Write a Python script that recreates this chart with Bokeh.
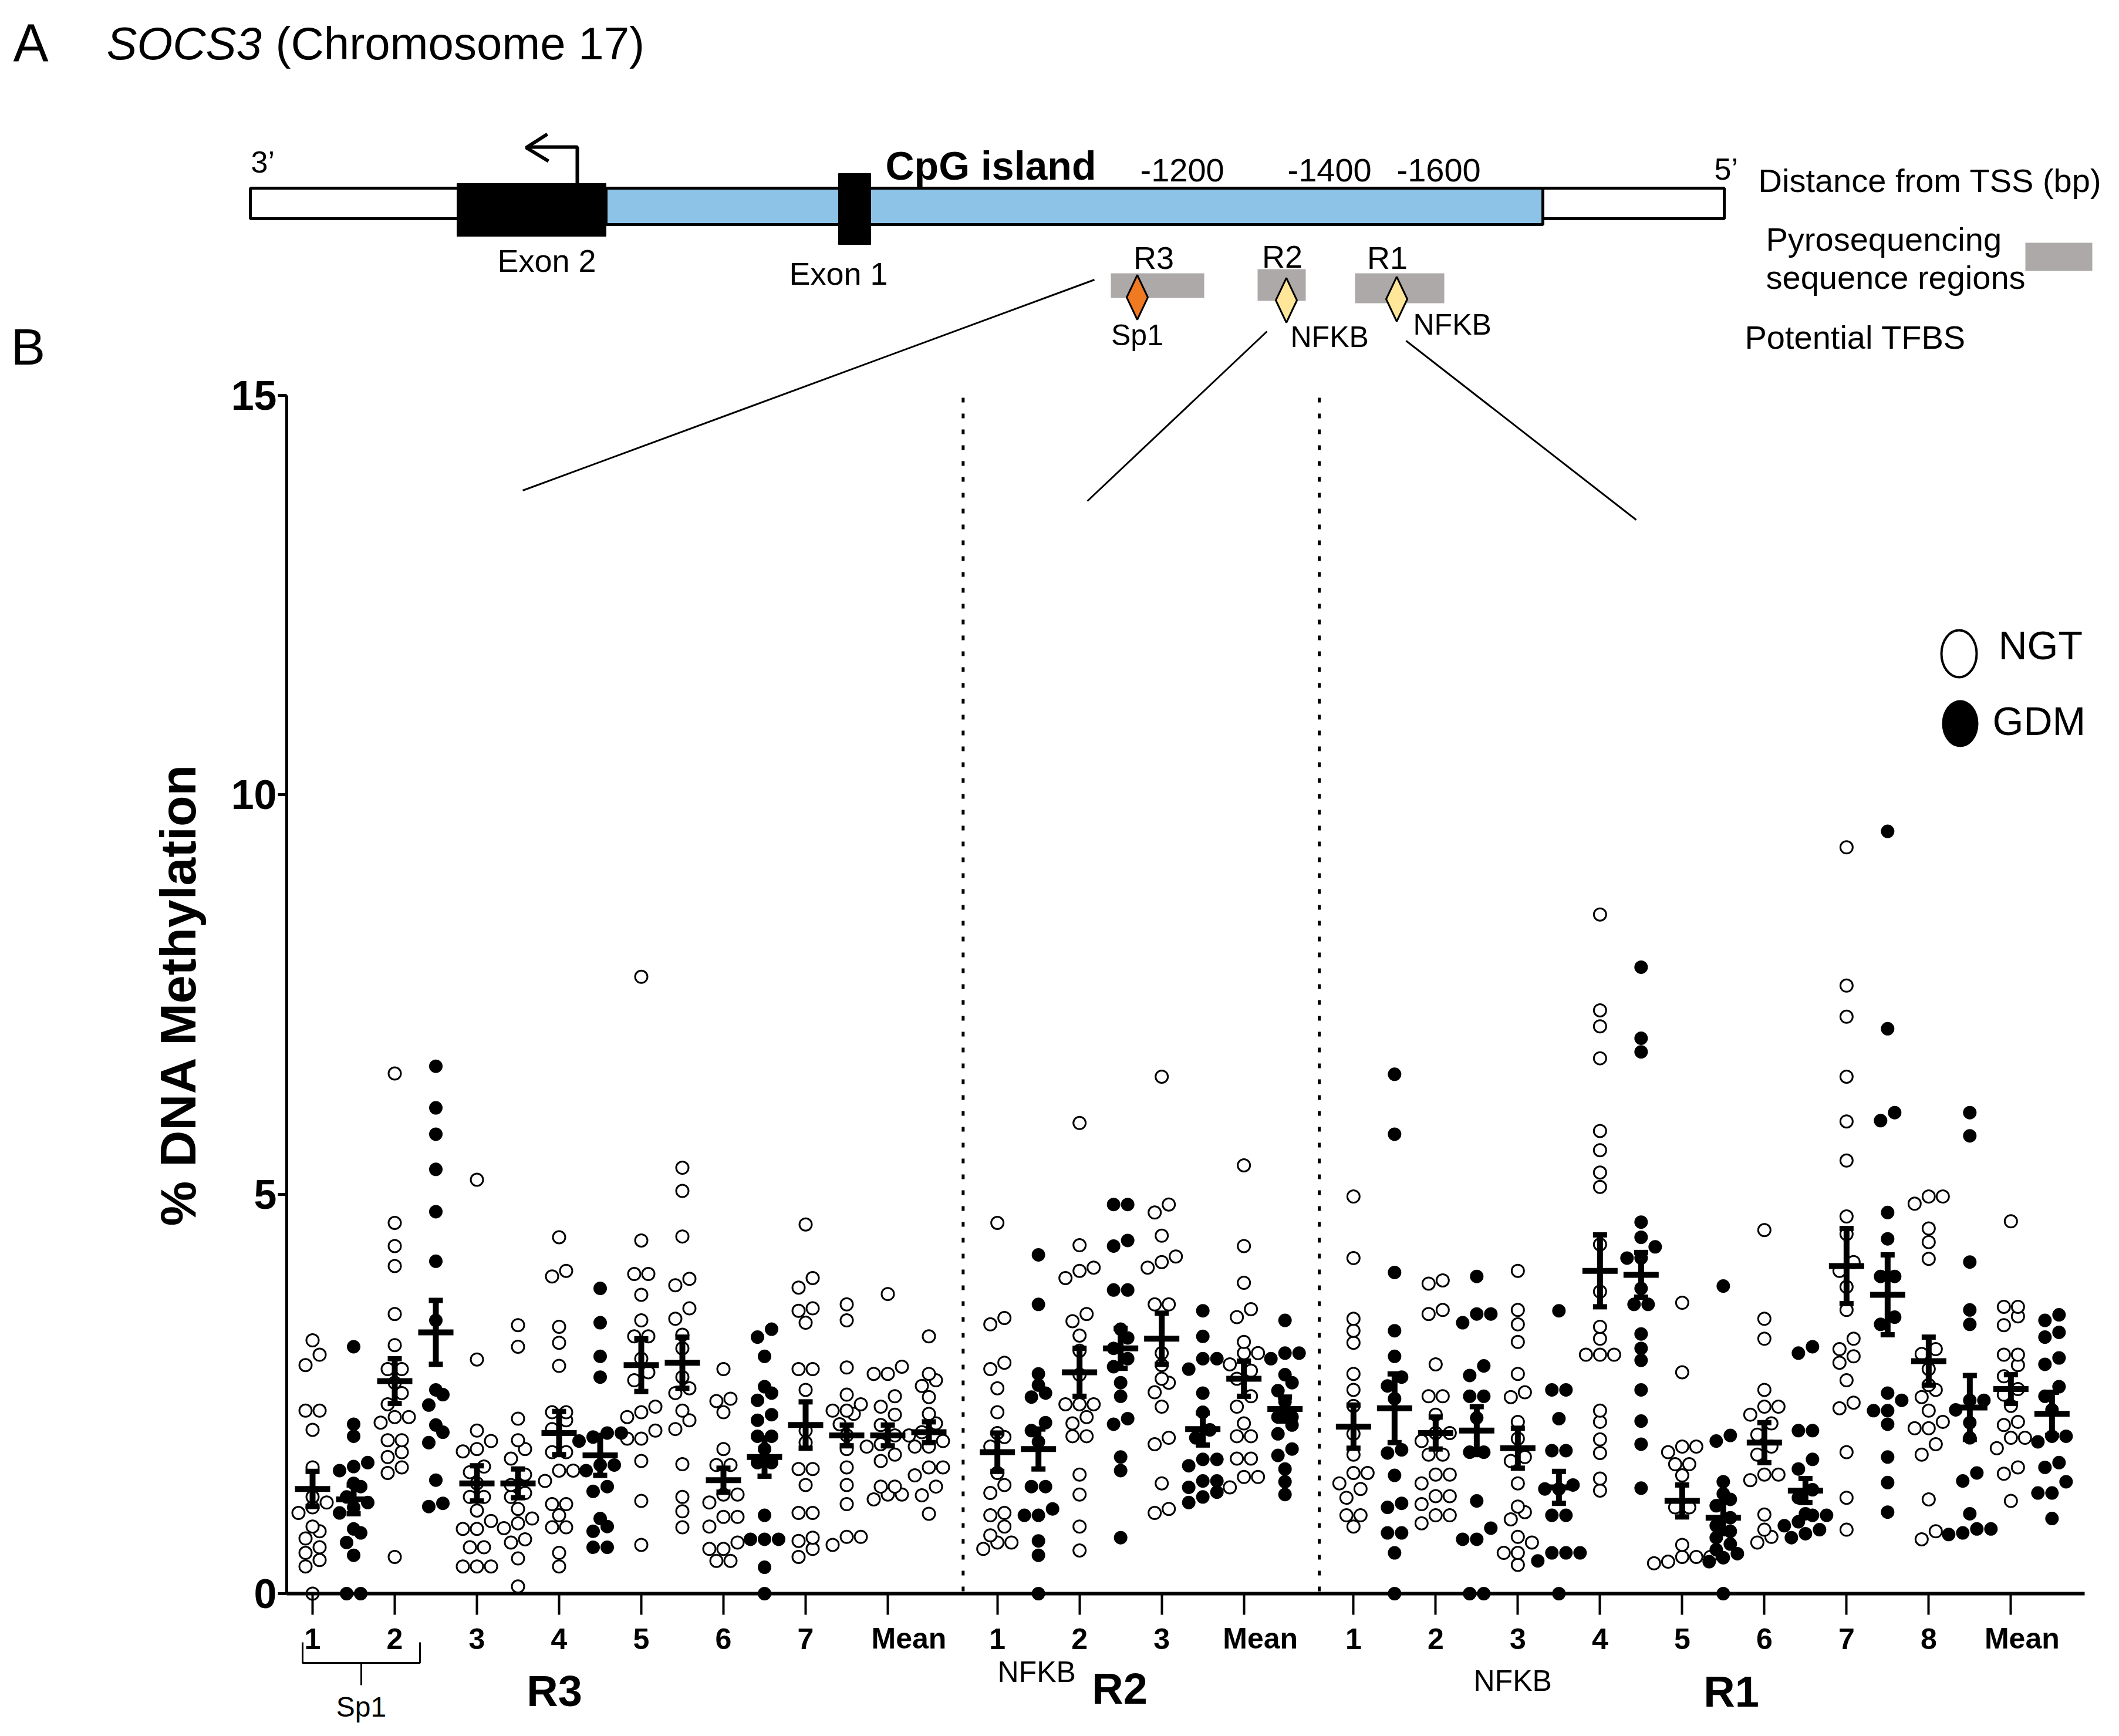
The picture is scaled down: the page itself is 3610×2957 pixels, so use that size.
import numpy as np
from bokeh.plotting import figure
from bokeh.models import Range1d, LinearAxis, FixedTicker
from bokeh.core.properties import value
from bokeh.embed import file_html
from bokeh.resources import INLINE

# ---------------- data ----------------
R3_LABELS = ["1", "2", "3", "4", "5", "6", "7", "Mean"]
R2_LABELS = ["1", "2", "3", "Mean"]
R1_LABELS = ["1", "2", "3", "4", "5", "6", "7", "8", "Mean"]

R3_NGT = [
    [3.17, 2.99, 2.86, 2.29, 2.29, 2.05, 1.58, 1.21, 1.14, 1.08, 1.01, 0.84, 0.78, 0.69, 0.58, 0.51, 0.42, 0.34, 0.0],
    [6.51, 4.64, 4.35, 4.10, 3.50, 3.11, 2.81, 2.81, 2.64, 2.51, 2.37, 2.21, 2.21, 2.14, 1.92, 1.92, 1.77, 1.71, 1.58, 1.51, 0.46],
    [5.18, 2.93, 2.04, 1.91, 1.81, 1.78, 1.59, 1.52, 1.38, 1.21, 1.21, 1.04, 0.91, 0.81, 0.81, 0.58, 0.58, 0.34, 0.34, 0.34],
    [4.46, 4.04, 3.97, 3.34, 3.14, 2.85, 2.27, 2.27, 2.17, 2.06, 1.77, 1.77, 1.54, 1.54, 1.41, 1.12, 1.12, 0.98, 0.83, 0.83, 0.51, 0.34],
    [7.72, 4.42, 4.00, 4.00, 3.74, 3.42, 3.22, 3.22, 2.94, 2.77, 2.67, 2.34, 2.27, 2.21, 2.04, 1.94, 1.94, 1.66, 1.16, 0.61],
    [2.81, 2.44, 2.41, 2.27, 1.81, 1.61, 1.61, 1.24, 1.24, 1.14, 0.96, 0.96, 0.84, 0.64, 0.56, 0.56, 0.41, 0.41],
    [4.62, 3.95, 3.83, 3.57, 3.54, 3.39, 2.81, 2.81, 2.55, 2.04, 1.89, 1.56, 1.56, 1.36, 1.01, 1.01, 0.70, 0.66, 0.56, 0.46],
    [3.75, 2.84, 2.75, 2.75, 2.47, 2.34, 2.24, 2.11, 1.98, 1.98, 1.87, 1.84, 1.74, 1.66, 1.34, 1.34, 1.24, 1.24, 1.18],
]
R3_GDM = [
    [3.09, 2.12, 1.97, 1.64, 1.59, 1.54, 1.38, 1.34, 1.21, 1.14, 1.08, 1.01, 0.81, 0.76, 0.64, 0.48, 0.0, 0.0],
    [6.60, 6.08, 5.75, 5.31, 4.78, 4.16, 3.42, 2.55, 2.49, 2.36, 2.11, 2.02, 1.89, 1.42, 1.13, 1.09],
    [3.36, 3.09, 2.19, 1.92, 1.81, 1.69, 1.49, 1.36, 1.26, 1.21, 1.06, 0.94, 0.88, 0.82, 0.68, 0.64, 0.44, 0.09],
    [3.82, 3.39, 2.97, 2.71, 2.01, 2.01, 1.96, 1.91, 1.61, 1.61, 1.54, 1.34, 1.28, 0.94, 0.84, 0.78, 0.58, 0.58],
    [5.33, 5.04, 4.47, 3.94, 3.86, 3.57, 3.44, 3.24, 3.07, 2.71, 2.57, 2.51, 2.29, 2.17, 2.06, 1.62, 1.21, 1.03, 0.83],
    [3.31, 3.21, 2.97, 2.59, 2.51, 2.42, 2.24, 2.17, 1.97, 1.97, 1.81, 1.64, 1.64, 0.98, 0.68, 0.68, 0.68, 0.33, 0.0],
    [3.62, 3.42, 2.83, 2.49, 2.37, 2.29, 2.29, 2.25, 2.12, 1.98, 1.81, 1.58, 1.36, 1.12, 0.71, 0.71, 0.61],
    [3.22, 2.75, 2.67, 2.60, 2.46, 2.25, 2.13, 2.02, 1.91, 1.84, 1.84, 1.58, 1.58, 1.48, 1.34, 1.23, 1.00],
]
R3_GDM_OPEN = [False, False, True, False, True, False, True, True]

R2_NGT = [
    [4.64, 3.45, 3.37, 2.89, 2.81, 2.57, 2.27, 2.01, 1.96, 1.84, 1.51, 1.36, 1.26, 1.01, 0.98, 0.84, 0.73, 0.64, 0.64, 0.56],
    [5.89, 4.36, 4.08, 4.04, 3.95, 3.50, 3.41, 3.23, 3.04, 2.74, 2.37, 2.37, 2.37, 2.21, 2.13, 1.97, 1.97, 1.49, 1.24, 0.84, 0.54],
    [6.47, 4.87, 4.77, 4.48, 4.22, 4.15, 4.08, 3.62, 3.62, 3.01, 2.86, 2.69, 2.64, 2.52, 2.34, 1.95, 1.87, 1.38, 1.06, 1.01],
    [5.36, 4.35, 3.89, 3.56, 3.46, 3.15, 3.01, 3.01, 2.87, 2.79, 2.69, 2.47, 2.34, 2.13, 1.97, 1.97, 1.69, 1.69, 1.46, 1.46, 1.33],
]
R2_GDM = [
    [4.24, 3.62, 2.75, 2.61, 2.51, 2.46, 2.14, 2.04, 1.90, 1.34, 1.34, 1.06, 0.98, 0.98, 0.66, 0.48, 0.0],
    [4.87, 4.87, 4.42, 4.35, 3.80, 3.80, 3.31, 3.20, 3.07, 2.94, 2.84, 2.64, 2.47, 2.19, 2.12, 1.71, 1.54, 0.70],
    [3.54, 3.22, 2.94, 2.94, 2.81, 2.51, 2.27, 2.05, 1.95, 1.68, 1.68, 1.60, 1.41, 1.41, 1.33, 1.27, 1.21, 1.14],
    [3.42, 3.01, 3.01, 2.94, 2.74, 2.64, 2.54, 2.40, 2.21, 2.21, 2.11, 2.00, 1.81, 1.73, 1.56, 1.40, 1.24],
]
R2_GDM_OPEN = [False, False, False, False]

R1_NGT = [
    [4.97, 4.20, 3.44, 3.29, 3.14, 2.75, 2.55, 2.35, 2.00, 1.74, 1.51, 1.51, 1.38, 1.31, 1.20, 0.98, 0.98, 0.84],
    [3.92, 3.88, 3.55, 3.50, 2.87, 2.47, 2.47, 2.24, 2.01, 2.01, 1.91, 1.74, 1.74, 1.49, 1.49, 1.38, 1.22, 1.22, 1.12, 0.98, 0.98, 0.88],
    [4.04, 3.55, 3.37, 3.15, 2.75, 2.52, 2.46, 2.15, 1.94, 1.71, 1.66, 1.38, 1.09, 1.02, 0.93, 0.71, 0.64, 0.51, 0.51, 0.36],
    [8.50, 7.30, 7.10, 6.70, 5.79, 5.55, 5.27, 5.09, 4.37, 3.78, 3.34, 3.19, 2.99, 2.99, 2.99, 2.29, 2.15, 1.93, 1.76, 1.44, 1.29],
    [3.64, 2.77, 1.84, 1.84, 1.77, 1.62, 1.62, 1.48, 1.08, 1.08, 0.61, 0.46, 0.46, 0.46, 0.40, 0.38],
    [4.55, 3.44, 3.19, 2.55, 2.34, 2.34, 2.24, 2.13, 1.99, 1.84, 1.74, 1.49, 1.49, 1.42, 0.99, 0.80, 0.71, 0.64],
    [9.34, 7.61, 7.22, 6.47, 5.91, 5.42, 4.72, 4.50, 4.15, 4.04, 3.84, 3.55, 3.19, 3.06, 2.97, 2.89, 2.67, 2.39, 2.32, 1.77, 1.20, 0.80],
    [4.97, 4.97, 4.88, 4.57, 4.40, 4.19, 3.06, 3.00, 2.81, 2.61, 2.55, 2.46, 2.29, 2.15, 2.07, 2.07, 1.87, 1.74, 1.18, 0.78, 0.68],
    [4.66, 3.59, 3.59, 3.47, 3.36, 2.99, 2.99, 2.86, 2.72, 2.56, 2.49, 2.35, 2.15, 2.11, 1.95, 1.95, 1.82, 1.58, 1.50, 1.16],
]
R1_GDM = [
    [6.50, 5.75, 4.02, 3.29, 2.97, 2.71, 2.60, 2.44, 1.80, 1.76, 1.48, 1.13, 1.08, 0.76, 0.76, 0.51, 0.0],
    [3.97, 3.50, 3.50, 3.39, 2.85, 2.73, 2.47, 2.47, 2.20, 1.77, 1.77, 1.16, 0.82, 0.68, 0.68, 0.0, 0.0],
    [3.54, 2.55, 2.55, 2.19, 1.79, 1.79, 1.36, 1.31, 1.31, 0.98, 0.98, 0.51, 0.51, 0.51, 0.41, 0.0],
    [7.84, 6.95, 6.78, 4.65, 4.46, 4.34, 4.20, 4.20, 3.82, 3.62, 3.62, 3.25, 3.07, 2.92, 2.55, 2.16, 1.87, 1.32],
    [3.85, 1.98, 1.91, 1.40, 1.25, 1.18, 1.10, 0.95, 0.85, 0.78, 0.70, 0.62, 0.55, 0.50, 0.45, 0.40, 0.0],
    [3.09, 3.01, 2.04, 2.04, 1.68, 1.56, 1.30, 1.20, 1.00, 0.98, 0.98, 0.90, 0.85, 0.80, 0.75, 0.70],
    [9.54, 7.07, 6.02, 5.92, 4.77, 4.44, 3.97, 3.97, 3.46, 3.37, 2.51, 2.42, 2.29, 2.29, 2.12, 1.71, 1.39, 1.02],
    [6.02, 5.73, 4.15, 3.55, 3.37, 2.42, 2.42, 2.30, 2.14, 1.95, 1.51, 1.41, 1.00, 0.81, 0.81, 0.76, 0.74],
    [3.49, 3.42, 3.27, 3.21, 2.95, 2.87, 2.59, 2.47, 2.30, 1.97, 1.97, 1.90, 1.64, 1.58, 1.40, 1.26, 1.26, 0.94],
]
R1_GDM_OPEN = [False] * 9

R3_NGT_MEAN = [1.31, 2.66, 1.38, 2.01, 2.86, 1.42, 2.11, 1.98]
R3_NGT_SEM = [0.22, 0.28, 0.22, 0.27, 0.33, 0.15, 0.29, 0.13]
R3_GDM_MEAN = [1.18, 3.27, 1.38, 1.73, 2.89, 1.71, 1.98, 2.02]
R3_GDM_SEM = [0.18, 0.40, 0.18, 0.25, 0.32, 0.24, 0.13, 0.13]
R2_NGT_MEAN = [1.77, 2.77, 3.19, 2.69]
R2_NGT_SEM = [0.24, 0.30, 0.32, 0.22]
R2_GDM_MEAN = [1.81, 3.07, 2.06, 2.31]
R2_GDM_SEM = [0.25, 0.25, 0.20, 0.15]
R1_NGT_MEAN = [2.09, 2.01, 1.82, 4.04, 1.16, 1.89, 4.10, 2.91, 2.56]
R1_NGT_SEM = [0.27, 0.20, 0.25, 0.45, 0.20, 0.25, 0.47, 0.30, 0.18]
R1_GDM_MEAN = [2.32, 2.04, 1.33, 3.99, 0.95, 1.29, 3.74, 2.33, 2.25]
R1_GDM_SEM = [0.43, 0.30, 0.20, 0.28, 0.20, 0.15, 0.50, 0.40, 0.27]

# ---------------- layout helpers (reference pixel -> data units) ----------------
W, H = 3594, 2940
X0, COLPX, Y0, UPX = 540.0, 70.0, 2722.0, 136.1
XU = COLPX / 3.0                     # pixels per x unit (3 units per column)
MEAN_LABEL_SHIFT_PX = [36, 28, 19]   # "Mean" labels sit right of their tick


def ux(px):
    return (px - X0) / XU


def uy(py):
    return (Y0 - py) / UPX


FONT_NAME = "Liberation Sans"
FONT = value(FONT_NAME)

p = figure(width=W, height=H, x_range=Range1d(ux(8), ux(8 + W)),
           y_range=Range1d(uy(8 + H), uy(8)), output_backend="svg",
           toolbar_location=None, min_border=0,
           x_axis_location=None, y_axis_location=None)
p.outline_line_color = None
p.xgrid.visible = False
p.ygrid.visible = False
p.background_fill_color = "white"
p.border_fill_color = "white"

# ---------------- scatter columns ----------------
GROUP_START = [0, 50, 76]
regions = [
    (R3_LABELS, R3_NGT, R3_GDM, R3_GDM_OPEN, R3_NGT_MEAN, R3_NGT_SEM, R3_GDM_MEAN, R3_GDM_SEM),
    (R2_LABELS, R2_NGT, R2_GDM, R2_GDM_OPEN, R2_NGT_MEAN, R2_NGT_SEM, R2_GDM_MEAN, R2_GDM_SEM),
    (R1_LABELS, R1_NGT, R1_GDM, R1_GDM_OPEN, R1_NGT_MEAN, R1_NGT_SEM, R1_GDM_MEAN, R1_GDM_SEM),
]


def swarm(vals, step_px=24.0, thr=0.14):
    vs = sorted(vals)
    offs, ys = [], []
    i = 0
    while i < len(vs):
        j = i
        while j + 1 < len(vs) and vs[j + 1] - vs[i] < thr:
            j += 1
        n = j - i + 1
        for k in range(n):
            offs.append((k - (n - 1) / 2.0) * step_px / XU)
            ys.append(vs[i + k])
        i = j + 1
    return offs, ys


open_x, open_y, fill_x, fill_y = [], [], [], []
mx, my, ex, elo, ehi = [], [], [], [], []
ticks, overrides = [], {}
mean_ticks, mean_over = [], {}
for g, (start, (labels, ngt, gdm, gopen, nm, ns, gm, gs)) in enumerate(zip(GROUP_START, regions)):
    for i, lab in enumerate(labels):
        xn = start + 6 * i
        xg = xn + 3
        ticks.append(xn)
        if lab == "Mean":
            overrides[xn] = ""
            mt = xn + MEAN_LABEL_SHIFT_PX[g] / XU
            mean_ticks.append(mt)
            mean_over[mt] = lab
        else:
            overrides[xn] = lab
        o, v = swarm(ngt[i])
        open_x += [xn + d for d in o]
        open_y += v
        o, v = swarm(gdm[i])
        if gopen[i]:
            open_x += [xg + d for d in o]
            open_y += v
        else:
            fill_x += [xg + d for d in o]
            fill_y += v
        for xc, m, s in ((xn, nm[i], ns[i]), (xg, gm[i], gs[i])):
            mx.append(xc)
            my.append(m)
            ex.append(xc)
            elo.append(m - s)
            ehi.append(m + s)

p.scatter(open_x, open_y, size=21, marker="circle", fill_color="white",
          line_color="black", line_width=3)
p.scatter(fill_x, fill_y, size=21, marker="circle", fill_color="black",
          line_color="black", line_width=2)

half_mean = 30.0 / XU
half_cap = 12.0 / XU
mx_a = np.array(mx)
p.segment(x0=mx_a - half_mean, x1=mx_a + half_mean, y0=my, y1=my,
          line_color="black", line_width=10)
p.segment(x0=ex, x1=ex, y0=elo, y1=ehi, line_color="black", line_width=10)
ex_a = np.array(ex)
p.segment(x0=list(ex_a - half_cap) * 2, x1=list(ex_a + half_cap) * 2,
          y0=elo + ehi, y1=elo + ehi, line_color="black", line_width=9)

# dotted separators between regions
sep_x = [(42 + 3 + 50) / 2.0, (68 + 3 + 76) / 2.0]
p.segment(x0=sep_x, x1=sep_x, y0=[0.03, 0.03], y1=[15, 15], line_color="black",
          line_width=5, line_dash="8 19")

# ---------------- axes ----------------
def style_x(ax, standoff):
    ax.major_tick_out = 36
    ax.major_tick_in = 0
    ax.minor_tick_out = 0
    ax.minor_tick_in = 0
    ax.major_label_standoff = standoff
    ax.major_label_text_font = FONT_NAME
    ax.major_label_text_font_style = "bold"
    ax.major_label_text_font_size = "50px"
    ax.major_label_text_color = "black"


xaxis = LinearAxis(fixed_location=0, bounds=(ux(496), ux(3559)),
                   ticker=FixedTicker(ticks=ticks), major_label_overrides=overrides)
style_x(xaxis, 23)
xaxis.axis_line_width = 6
xaxis.major_tick_line_width = 4
p.add_layout(xaxis, "below")

# "Mean" labels, set a little to the right of their ticks
mean_axis = LinearAxis(fixed_location=0, ticker=FixedTicker(ticks=mean_ticks),
                       major_label_overrides=mean_over)
style_x(mean_axis, 12)
mean_axis.axis_line_color = None
mean_axis.major_tick_line_color = None
p.add_layout(mean_axis, "below")

yaxis = LinearAxis(fixed_location=ux(496), bounds=(0, 15),
                   ticker=FixedTicker(ticks=[0, 5, 10, 15]),
                   axis_label="% DNA Methylation")
yaxis.axis_line_width = 5
yaxis.major_tick_out = 15
yaxis.major_tick_in = 0
yaxis.major_tick_line_width = 5
yaxis.minor_tick_out = 0
yaxis.minor_tick_in = 0
yaxis.major_label_standoff = 2
yaxis.major_label_text_font = FONT_NAME
yaxis.major_label_text_font_style = "bold"
yaxis.major_label_text_font_size = "70px"
yaxis.major_label_text_color = "black"
yaxis.axis_label_text_font = FONT_NAME
yaxis.axis_label_text_font_style = "bold"
yaxis.axis_label_text_font_size = "86px"
yaxis.axis_label_text_color = "black"
yaxis.axis_label_standoff = 40
p.add_layout(yaxis, "left")


def txt(xpx, ypx, s, size, align="left", style="normal"):
    p.text(x=[ux(xpx)], y=[uy(ypx)], text=[s], text_font=FONT,
           text_font_size=size, text_font_style=style, text_align=align,
           text_baseline="alphabetic", text_color="black")


# ---------------- panel A: gene diagram ----------------
txt(30, 80, "A", "90px")
txt(189, 81, "SOCS3", "78px", style="italic")
txt(477, 81, "(Chromosome 17)", "78px")
txt(26, 598, "B", "88px")

# boxes
p.quad(left=[ux(434), ux(2636)], right=[ux(790), ux(2945)], top=[uy(328)] * 2,
       bottom=[uy(380)] * 2, fill_color="white", line_color="black", line_width=5)
p.quad(left=[ux(1040)], right=[ux(2636)], top=[uy(328)], bottom=[uy(390)],
       fill_color="#8DC3E6", line_color="black", line_width=5)
p.quad(left=[ux(786), ux(1436)], right=[ux(1040), ux(1491)],
       top=[uy(320), uy(303)], bottom=[uy(410), uy(424)],
       fill_color="black", line_color="black", line_width=1)
# transcription start arrow
p.multi_line(xs=[[ux(991), ux(991), ux(906)], [ux(940), ux(904), ux(942)]],
             ys=[[uy(322), uy(258), uy(258)], [uy(236), uy(259), uy(282)]],
             line_color="black", line_width=6)

txt(939, 451, "Exon 2", "54px", align="center")
txt(1436, 473, "Exon 1", "54px", align="center")
txt(1516, 289, "CpG island", "68px", style="bold")
txt(1950, 297, "-1200", "56px")
txt(2201, 297, "-1400", "56px")
txt(2387, 297, "-1600", "56px")
txt(435, 283, "3\u2019", "52px")
txt(2928, 295, "5\u2019", "52px")
txt(3003, 315, "Distance from TSS (bp)", "56px")

# pyrosequencing regions
p.quad(left=[ux(1900), ux(2150), ux(2316), ux(3458)],
       right=[ux(2059), ux(2232), ux(2468), ux(3572)],
       top=[uy(473), uy(466), uy(473), uy(421)],
       bottom=[uy(515), uy(520), uy(524), uy(469)],
       fill_color="#ADA9A9", line_color=None)
txt(1973, 446, "R3", "54px", align="center")
txt(2192, 444, "R2", "54px", align="center")
txt(2371, 446, "R1", "54px", align="center")


def diamond(cx, cy, w=36, h=76):
    return ([ux(cx), ux(cx + w / 2), ux(cx), ux(cx - w / 2)],
            [uy(cy - h / 2), uy(cy), uy(cy + h / 2), uy(cy)])


d1, d2, d3 = diamond(1945, 514), diamond(2199, 519), diamond(2387, 517)
p.patches(xs=[d1[0], d2[0], d3[0]], ys=[d1[1], d2[1], d3[1]],
          fill_color=["#F07A22", "#FFE699", "#FFE699"], line_color="black",
          line_width=3)
txt(1945, 578, "Sp1", "50px", align="center")
txt(2206, 581, "NFKB", "50px")
txt(2415, 560, "NFKB", "50px")
txt(3016, 415, "Pyrosequencing", "56px")
txt(3016, 480, "sequence regions", "56px")
txt(2980, 582, "Potential TFBS", "56px")

# connector lines from diagram down to the panel B columns
p.segment(x0=[ux(1872), ux(2166), ux(2403)], y0=[uy(484), uy(572), uy(588)],
          x1=[ux(898), ux(1860), ux(2795)], y1=[uy(843), uy(861), uy(893)],
          line_color="black", line_width=3)

# ---------------- lower labels ----------------
p.multi_line(xs=[[ux(523), ux(523), ux(723), ux(723)], [ux(623), ux(623)]],
             ys=[[uy(2805), uy(2840), uy(2840), uy(2805)], [uy(2840), uy(2878)]],
             line_color="black", line_width=3)
txt(623, 2915, "Sp1", "48px", align="center")
txt(952, 2888, "R3", "74px", align="center", style="bold")
txt(1707, 2855, "NFKB", "50px")
txt(1915, 2884, "R2", "74px", align="center", style="bold")
txt(2518, 2870, "NFKB", "50px")
txt(2957, 2889, "R1", "74px", align="center", style="bold")

# ---------------- legend ----------------
p.ellipse(x=[ux(3345)], y=[uy(1121)], width=60 / XU, height=80 / UPX,
          fill_color="white", line_color="black", line_width=4)
p.ellipse(x=[ux(3347)], y=[uy(1240)], width=60 / XU, height=78 / UPX,
          fill_color="black", line_color="black", line_width=2)
txt(3412, 1106, "NGT", "68px")
txt(3402, 1235, "GDM", "68px")

open("out.html", "w").write(file_html(p, INLINE))
